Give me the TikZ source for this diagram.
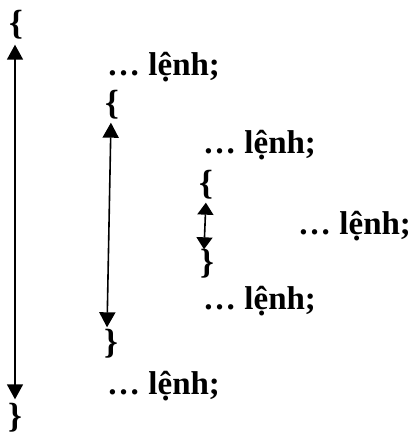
\documentclass[tikz,border=0pt]{standalone}
\usepackage{fontspec}
\setmainfont{Liberation Serif}
\usetikzlibrary{arrows.meta}
\begin{document}
\begin{tikzpicture}[x=1pt,y=-1pt,
  stmt/.style={font=\fontsize{33}{36}\selectfont\bfseries, inner sep=0pt, anchor=base west},
  brace/.style={font=\fontsize{35}{40}\selectfont\bfseries, inner sep=0pt},
  span/.style={line width=1.6pt, {Triangle[length=15pt,width=16pt]}-{Triangle[length=15pt,width=16pt]}},
  spanshort/.style={line width=1.6pt, {Triangle[length=12pt,width=16pt]}-{Triangle[length=12pt,width=16pt]}}]
\useasboundingbox (0,0) rectangle (416,434);

% outer block
\node[brace] (ob) at (16,25) {\{};
\node[brace] (cb) at (15,418) {\}};
% middle block
\node[brace] (ib1) at (112,105) {\{};
\node[brace] (ib2) at (111,344) {\}};
% inner block
\node[brace] (iib1) at (206,185) {\{};
\node[brace] (iib2) at (207,264) {\}};

% statements
\node[stmt] (s1) at (107,75) {… lệnh;};
\node[stmt] (s2) at (203,153) {… lệnh;};
\node[stmt] (s3) at (298,234) {… lệnh;};
\node[stmt] (s4) at (203,309) {… lệnh;};
\node[stmt] (s5) at (107,394) {… lệnh;};

% scope arrows
\draw[span, shorten <=5pt, shorten >=4pt] ([xshift=-1pt]ob.south) -- (cb.north);
\draw[span, shorten <=3pt, shorten >=2pt] ([xshift=-1pt]ib1.south) -- ([xshift=-4pt]ib2.north);
\draw[spanshort, shorten <=3pt, shorten >=0pt] ([xshift=0pt]iib1.south) -- ([xshift=-3pt]iib2.north);
\end{tikzpicture}
\end{document}
